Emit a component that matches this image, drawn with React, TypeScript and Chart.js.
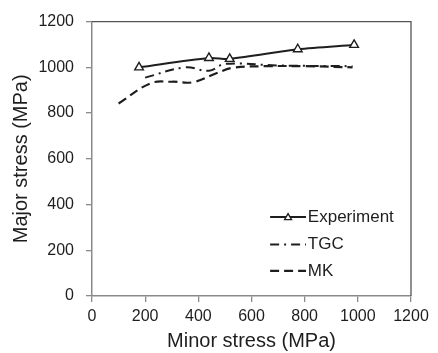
import React, { useEffect, useRef } from "react";
import { Chart, registerables } from "chart.js";

Chart.register(...registerables);

const expX = [177, 440, 518, 774, 986];
const expY = [1000, 1041, 1037, 1079, 1098];

const tgcX = [200, 350, 440, 500, 700, 980];
const tgcY = [955, 1000, 985, 1015, 1008, 1005];

const mkX = [100, 220, 300, 380, 470, 530, 650, 800, 980];
const mkY = [842, 930, 937, 935, 975, 998, 1005, 1005, 1000];

const xTicks = [0, 200, 400, 600, 800, 1000, 1200];
const yTicks = [0, 200, 400, 600, 800, 1000, 1200];

const seriesNames = ["Experiment", "TGC", "MK"];

const FONT = "'Liberation Sans', Arial, sans-serif";
const INK = "#1e1e1e";
const AXIS = "#8a8a8a";

const toPts = (xs: number[], ys: number[]) => xs.map((x, i) => ({ x, y: ys[i] }));

const frameAndLegend = {
  id: "frameAndLegend",
  afterDatasetsDraw(chart: any) {
    const ctx = chart.ctx;
    const { left, right, top, bottom } = chart.chartArea;
    ctx.save();
    ctx.strokeStyle = "#555";
    ctx.lineWidth = 1.3;
    ctx.beginPath();
    ctx.moveTo(left, top);
    ctx.lineTo(right, top);
    ctx.lineTo(right, bottom);
    ctx.stroke();

    const xs = chart.scales.x;
    const ys = chart.scales.y;
    const lx0 = xs.getPixelForValue(670);
    const lx1 = xs.getPixelForValue(805);
    const tx = xs.getPixelForValue(812);
    const rows = [ys.getPixelForValue(345), ys.getPixelForValue(225), ys.getPixelForValue(110)];
    chart.data.datasets.forEach((ds: any, i: number) => {
      const y = rows[i];
      ctx.strokeStyle = ds.borderColor;
      ctx.lineWidth = ds.borderWidth;
      ctx.setLineDash(ds.borderDash || []);
      ctx.beginPath();
      ctx.moveTo(lx0, y);
      ctx.lineTo(lx1, y);
      ctx.stroke();
      ctx.setLineDash([]);
      if (ds.pointRadius > 0) {
        const cx = (lx0 + lx1) / 2;
        const r = 3.5;
        ctx.fillStyle = "#fff";
        ctx.lineWidth = 1.3;
        ctx.beginPath();
        ctx.moveTo(cx, y - r);
        ctx.lineTo(cx + r, y + r * 0.7);
        ctx.lineTo(cx - r, y + r * 0.7);
        ctx.closePath();
        ctx.fill();
        ctx.stroke();
      }
      ctx.fillStyle = INK;
      ctx.font = `17px ${FONT}`;
      ctx.textAlign = "left";
      ctx.textBaseline = "middle";
      ctx.fillText(ds.label, tx, y);
    });
    ctx.restore();
  },
};

export default function App() {
  const ref = useRef<HTMLCanvasElement>(null);
  useEffect(() => {
    if (!ref.current) return;
    const chart = new Chart(ref.current, {
      type: "line",
      data: {
        datasets: [
          {
            label: seriesNames[0],
            data: toPts(expX, expY),
            borderColor: INK,
            borderWidth: 2,
            tension: 0.3,
            pointStyle: "triangle",
            pointRadius: 5,
            pointBackgroundColor: "#fff",
            pointBorderColor: INK,
            pointBorderWidth: 1.4,
          },
          {
            label: seriesNames[1],
            data: toPts(tgcX, tgcY),
            borderColor: INK,
            borderWidth: 2,
            borderDash: [9, 5, 2, 5],
            tension: 0.4,
            pointRadius: 0,
          },
          {
            label: seriesNames[2],
            data: toPts(mkX, mkY),
            borderColor: INK,
            borderWidth: 2.2,
            borderDash: [9, 5],
            tension: 0.4,
            pointRadius: 0,
          },
        ],
      },
      options: {
        responsive: false,
        animation: false,
        layout: { padding: { top: 15, right: 27, left: 0, bottom: 0 } },
        plugins: { legend: { display: false }, tooltip: { enabled: false } },
        scales: {
          x: {
            type: "linear",
            min: 0,
            max: 1200,
            afterBuildTicks: (s: any) => {
              s.ticks = xTicks.map((v) => ({ value: v }));
            },
            ticks: {
              font: { size: 16, family: FONT },
              color: INK,
              maxRotation: 0,
              padding: 5,
              callback: (v: any) => String(v),
            },
            grid: { drawOnChartArea: false, tickLength: 6, color: AXIS, lineWidth: 1.3 },
            border: { color: AXIS, width: 1.5 },
            title: {
              display: true,
              text: "Minor stress (MPa)",
              font: { size: 20, family: FONT },
              color: INK,
              padding: { top: 0, bottom: 0 },
            },
            afterFit: (s: any) => {
              s.height = 57;
            },
          },
          y: {
            type: "linear",
            min: 0,
            max: 1200,
            afterBuildTicks: (s: any) => {
              s.ticks = yTicks.map((v) => ({ value: v }));
            },
            ticks: {
              font: { size: 16, family: FONT },
              color: INK,
              padding: 12,
              callback: (v: any) => String(v),
            },
            grid: { drawOnChartArea: false, tickLength: 6, color: AXIS, lineWidth: 1.3 },
            border: { color: AXIS, width: 1.5 },
            title: {
              display: true,
              text: "Major stress (MPa)",
              font: { size: 20, family: FONT },
              color: INK,
              padding: { top: 9, bottom: 0 },
            },
            afterFit: (s: any) => {
              s.width = 92;
            },
          },
        },
      },
      plugins: [frameAndLegend],
    });
    return () => chart.destroy();
  }, []);
  return (
    <div style={{ position: "fixed", left: 0, top: 0, width: 438, height: 353, background: "#fff" }}>
      <canvas ref={ref} width={438} height={353} />
    </div>
  );
}
